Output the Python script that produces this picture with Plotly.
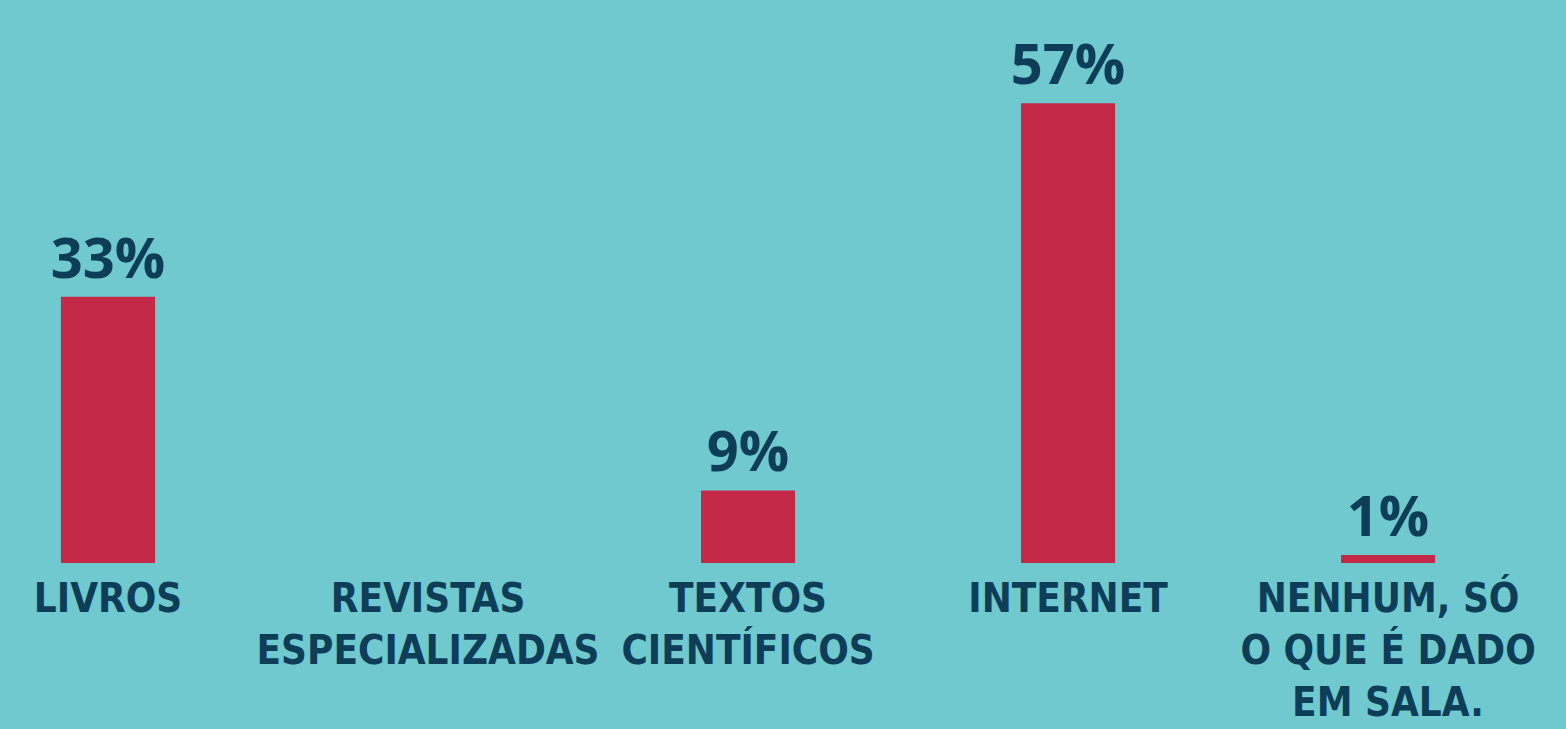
import plotly.graph_objects as go

# data
categories = ["LIVROS", "REVISTAS<br>ESPECIALIZADAS", "TEXTOS<br>CIENTÍFICOS",
              "INTERNET", "NENHUM, SÓ<br>O QUE É DADO<br>EM SALA."]
values = [33, 0, 9, 57, 1]
labels = [f"{v}%" if v else "" for v in values]

BG = "#6FC9CE"
BAR = "#C42A48"
NAVY = "#0E3D57"
LABEL_FONT = "DejaVu Sans Condensed"
VALUE_FONT = "Open Sans"

fig = go.Figure()
fig.add_bar(
    x=categories,
    y=values,
    text=labels,
    textposition="outside",
    constraintext="none",
    textfont=dict(family=VALUE_FONT, size=56, color=NAVY, weight="bold"),
    marker=dict(color=BAR, line=dict(width=0)),
    cliponaxis=False,
    hoverinfo="skip",
)

fig.update_layout(
    width=1566,
    height=729,
    autosize=False,
    paper_bgcolor=BG,
    plot_bgcolor=BG,
    bargap=0.706,
    showlegend=False,
    margin={'l': 0, 'r': 0, 'b': 166, 't': 0},
)

fig.update_xaxes(
    range=[-0.3375, 4.556],
    showgrid=False, zeroline=False, showline=False,
    ticks="", ticklabelstandoff=8, tickangle=0, automargin=False,
    tickfont=dict(family=LABEL_FONT, size=40, color=NAVY, weight="bold"),
)
fig.update_yaxes(range=[0, 69.8], visible=False)

# drop the default page margin so the chart fills the window
fig.write_html("out.html", config={"displayModeBar": False},
               post_script="document.body.style.margin='0';")
